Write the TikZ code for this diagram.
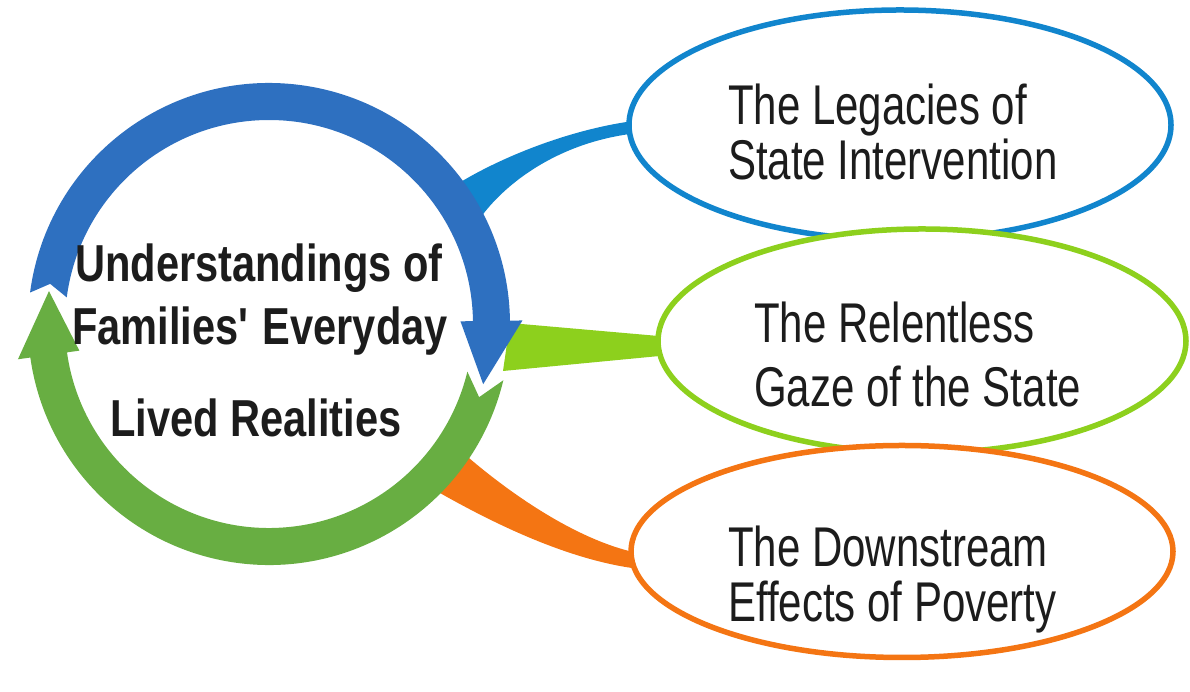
\documentclass[tikz,border=0pt]{standalone}
\usepackage{fontspec}
\setmainfont{Liberation Sans}
\newfontfamily\bubblefont[FakeStretch=0.75]{Liberation Sans}
\newfontfamily\hubfont[FakeStretch=0.80]{Liberation Sans}
\usetikzlibrary{shapes.geometric}
\pgfdeclarelayer{background}
\pgfsetlayers{background,main}

\definecolor{ringblue}{RGB}{46,112,192}
\definecolor{ringgreen}{RGB}{104,174,66}
\definecolor{skyblue}{RGB}{17,133,205}
\definecolor{lime}{RGB}{141,208,29}
\definecolor{tangerine}{RGB}{244,117,19}
\definecolor{ink}{RGB}{28,28,28}

\begin{document}
\begin{tikzpicture}[x=1bp,y=1bp,
  bubble/.style={ellipse, line width=5.5bp, fill=white, inner sep=0pt, outer sep=0pt},
  bubbletext/.style={anchor=base west, inner sep=0pt, text=ink,
    font=\bubblefont\fontsize{56bp}{60bp}\selectfont},
  hubtext/.style={anchor=base, inner sep=0pt, text=ink,
    font=\hubfont\bfseries\fontsize{52bp}{56bp}\selectfont}]
\useasboundingbox (0,0) rectangle (1190,692);

% centre of the cycle ring
\coordinate (hub) at (269,368);

% the three topic bubbles
\node[bubble, draw=skyblue, minimum width=542bp, minimum height=230bp] (legacies) at (900,567) {};
\node[bubble, draw=lime, minimum width=528bp, minimum height=224bp] (gaze) at (922,351) {};
\node[bubble, draw=tangerine, minimum width=542bp, minimum height=212bp] (downstream) at (902,140.5) {};

% tapered connectors from the ring to each bubble
\begin{pgfonlayer}{background}
  \fill[skyblue]
    ([shift={(36.8:224bp)}]hub) .. controls (488,529) and (570,566) ..
    ([shift={(22,6)}]legacies.west) -- ([shift={(22,-7)}]legacies.west)
    .. controls (560,555) and (500,505) .. ([shift={(25.9:231bp)}]hub) -- cycle;
  \fill[lime]
    ([shift={(241,1)}]hub) -- ([shift={(12,4)}]gaze.west)
    -- ([shift={(12,-14)}]gaze.west) -- ([shift={(234,-47)}]hub) -- cycle;
  \fill[tangerine]
    ([shift={(188,-123.5)}]hub) .. controls (507,199.5) and (585,145) ..
    ([shift={(19,-3.5)}]downstream.west) -- ([shift={(19,-18.5)}]downstream.west)
    .. controls (570,128) and (481,175) .. ([shift={(157,-161)}]hub) -- cycle;
\end{pgfonlayer}

% the cycle ring: blue arrow over the top, green arrow underneath
\begin{scope}[shift={(hub)}]
  \fill[ringblue] (172.5:241bp) arc[start angle=172.5, end angle=0.8, radius=241bp]
    -- (0.8:253.5bp) -- (-15.7:222.5bp) -- (0.8:191.5bp) -- (0.8:204bp)
    arc[start angle=0.8, end angle=172.5, radius=204bp]
    -- (169.6:222.5bp) -- cycle;
  \fill[ringgreen] (-13.5:241bp) arc[start angle=-13.5, end angle=-172, radius=241bp]
    -- (-172:253.5bp) -- (-188.5:222.5bp) -- (-172:191.5bp) -- (-172:204bp)
    arc[start angle=-172, end angle=-13.5, radius=204bp]
    -- (-19.2:222.5bp) -- cycle;
\end{scope}

% ring caption
\node[hubtext] (hubA) at (259,410) {Understandings of};
\node[hubtext] (hubB) at (260,347) {Families\textquotesingle{} Everyday};
\node[hubtext] (hubC) at (256,255) {Lived Realities};

% bubble captions
\node[bubbletext] (legA) at (728,567) {The Legacies of};
\node[bubbletext] (legB) at (728,512) {State Intervention};
\node[bubbletext] (gazeA) at (754,349) {The Relentless};
\node[bubbletext] (gazeB) at (754,285) {Gaze of the State};
\node[bubbletext] (downA) at (728,125) {The Downstream};
\node[bubbletext] (downB) at (728,70) {Effects of Poverty};
\end{tikzpicture}
\end{document}
